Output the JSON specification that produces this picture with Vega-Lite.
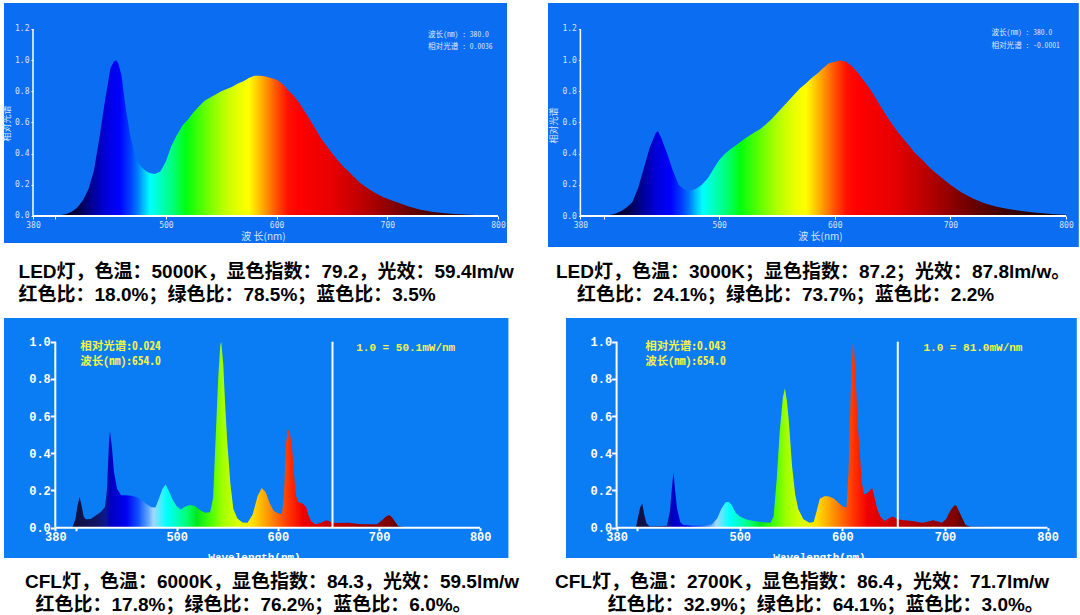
{
"$schema": "https://vega.github.io/schema/vega-lite/v6.json",
"background": "white",
"padding": {"left": 2, "top": 3, "right": 0, "bottom": 0},
"config": {"view": {"stroke": null}, "axis": {"grid": false, "labelOverlap": false, "labelFlush": false, "domain": false, "zindex": 1, "tickCount": 20}},
"datasets": {
"led5000": [
{"wl":380,"v":0.004},{"wl":390,"v":0.003},{"wl":400,"v":0.004},{"wl":405,"v":0.006},{"wl":410,"v":0.012},{"wl":415,"v":0.028},{"wl":420,"v":0.055},{"wl":425,"v":0.1},{"wl":430,"v":0.17},{"wl":435,"v":0.29},{"wl":440,"v":0.5},{"wl":445,"v":0.74},{"wl":450,"v":0.95},{"wl":453,"v":0.99},{"wl":455,"v":1.0},{"wl":457,"v":0.98},{"wl":460,"v":0.9},{"wl":464,"v":0.68},{"wl":468,"v":0.51},{"wl":472,"v":0.4},{"wl":476,"v":0.33},{"wl":480,"v":0.3},{"wl":485,"v":0.276},{"wl":490,"v":0.27},{"wl":495,"v":0.285},{"wl":500,"v":0.35},{"wl":505,"v":0.45},{"wl":510,"v":0.52},{"wl":515,"v":0.58},{"wl":520,"v":0.62},{"wl":525,"v":0.665},{"wl":530,"v":0.705},{"wl":535,"v":0.74},{"wl":540,"v":0.76},{"wl":545,"v":0.78},{"wl":550,"v":0.8},{"wl":555,"v":0.815},{"wl":560,"v":0.83},{"wl":565,"v":0.85},{"wl":570,"v":0.865},{"wl":575,"v":0.885},{"wl":580,"v":0.9},{"wl":585,"v":0.9},{"wl":590,"v":0.895},{"wl":595,"v":0.885},{"wl":600,"v":0.875},{"wl":605,"v":0.85},{"wl":610,"v":0.81},{"wl":615,"v":0.775},{"wl":620,"v":0.73},{"wl":625,"v":0.675},{"wl":630,"v":0.62},{"wl":635,"v":0.56},{"wl":640,"v":0.5},{"wl":645,"v":0.45},{"wl":650,"v":0.405},{"wl":655,"v":0.36},{"wl":660,"v":0.32},{"wl":665,"v":0.285},{"wl":670,"v":0.25},{"wl":675,"v":0.215},{"wl":680,"v":0.19},{"wl":685,"v":0.165},{"wl":690,"v":0.145},{"wl":695,"v":0.125},{"wl":700,"v":0.11},{"wl":710,"v":0.085},{"wl":720,"v":0.06},{"wl":730,"v":0.04},{"wl":740,"v":0.028},{"wl":750,"v":0.019},{"wl":760,"v":0.013},{"wl":770,"v":0.009},{"wl":780,"v":0.006},{"wl":790,"v":0.004},{"wl":800,"v":0.003}
],
"led3000": [
{"wl":380,"v":0.0},{"wl":390,"v":0.0},{"wl":400,"v":0.002},{"wl":405,"v":0.006},{"wl":410,"v":0.015},{"wl":415,"v":0.03},{"wl":420,"v":0.055},{"wl":425,"v":0.09},{"wl":430,"v":0.18},{"wl":435,"v":0.31},{"wl":440,"v":0.44},{"wl":445,"v":0.53},{"wl":447,"v":0.545},{"wl":450,"v":0.5},{"wl":455,"v":0.4},{"wl":460,"v":0.29},{"wl":465,"v":0.2},{"wl":470,"v":0.17},{"wl":475,"v":0.163},{"wl":480,"v":0.175},{"wl":485,"v":0.2},{"wl":490,"v":0.24},{"wl":495,"v":0.3},{"wl":500,"v":0.36},{"wl":505,"v":0.4},{"wl":510,"v":0.43},{"wl":515,"v":0.455},{"wl":520,"v":0.485},{"wl":525,"v":0.51},{"wl":530,"v":0.535},{"wl":535,"v":0.555},{"wl":540,"v":0.585},{"wl":545,"v":0.62},{"wl":550,"v":0.66},{"wl":555,"v":0.7},{"wl":560,"v":0.74},{"wl":565,"v":0.78},{"wl":570,"v":0.82},{"wl":575,"v":0.85},{"wl":580,"v":0.885},{"wl":585,"v":0.915},{"wl":590,"v":0.95},{"wl":595,"v":0.98},{"wl":600,"v":0.99},{"wl":605,"v":0.998},{"wl":610,"v":0.99},{"wl":615,"v":0.96},{"wl":620,"v":0.92},{"wl":625,"v":0.87},{"wl":630,"v":0.82},{"wl":635,"v":0.76},{"wl":640,"v":0.7},{"wl":645,"v":0.64},{"wl":650,"v":0.585},{"wl":655,"v":0.535},{"wl":660,"v":0.49},{"wl":665,"v":0.445},{"wl":670,"v":0.4},{"wl":675,"v":0.365},{"wl":680,"v":0.325},{"wl":685,"v":0.29},{"wl":690,"v":0.26},{"wl":695,"v":0.23},{"wl":700,"v":0.2},{"wl":705,"v":0.175},{"wl":710,"v":0.15},{"wl":715,"v":0.13},{"wl":720,"v":0.11},{"wl":730,"v":0.08},{"wl":740,"v":0.06},{"wl":750,"v":0.045},{"wl":760,"v":0.034},{"wl":770,"v":0.024},{"wl":780,"v":0.017},{"wl":790,"v":0.012},{"wl":800,"v":0.008}
],
"cfl6000": [
{"wl":380,"v":0.0},{"wl":390,"v":0.0},{"wl":397,"v":0.003},{"wl":400,"v":0.05},{"wl":402,"v":0.12},{"wl":404,"v":0.165},{"wl":406,"v":0.12},{"wl":408,"v":0.06},{"wl":410,"v":0.045},{"wl":415,"v":0.047},{"wl":420,"v":0.065},{"wl":425,"v":0.085},{"wl":429,"v":0.11},{"wl":431,"v":0.2},{"wl":433,"v":0.45},{"wl":434,"v":0.52},{"wl":436,"v":0.43},{"wl":438,"v":0.3},{"wl":441,"v":0.21},{"wl":445,"v":0.175},{"wl":450,"v":0.174},{"wl":455,"v":0.172},{"wl":460,"v":0.165},{"wl":465,"v":0.15},{"wl":470,"v":0.128},{"wl":475,"v":0.11},{"wl":479,"v":0.108},{"wl":482,"v":0.15},{"wl":486,"v":0.21},{"wl":489,"v":0.232},{"wl":492,"v":0.2},{"wl":496,"v":0.15},{"wl":500,"v":0.115},{"wl":504,"v":0.098},{"wl":508,"v":0.113},{"wl":513,"v":0.122},{"wl":518,"v":0.116},{"wl":523,"v":0.095},{"wl":528,"v":0.08},{"wl":533,"v":0.083},{"wl":536,"v":0.16},{"wl":539,"v":0.55},{"wl":541,"v":0.8},{"wl":543,"v":0.98},{"wl":544,"v":1.0},{"wl":546,"v":0.88},{"wl":548,"v":0.65},{"wl":550,"v":0.46},{"wl":553,"v":0.24},{"wl":556,"v":0.1},{"wl":560,"v":0.05},{"wl":565,"v":0.028},{"wl":570,"v":0.027},{"wl":575,"v":0.07},{"wl":580,"v":0.17},{"wl":584,"v":0.213},{"wl":588,"v":0.19},{"wl":592,"v":0.13},{"wl":596,"v":0.09},{"wl":600,"v":0.078},{"wl":604,"v":0.072},{"wl":606,"v":0.17},{"wl":608,"v":0.45},{"wl":610,"v":0.53},{"wl":612,"v":0.5},{"wl":614,"v":0.43},{"wl":616,"v":0.28},{"wl":618,"v":0.17},{"wl":620,"v":0.14},{"wl":625,"v":0.127},{"wl":628,"v":0.11},{"wl":630,"v":0.07},{"wl":633,"v":0.035},{"wl":637,"v":0.018},{"wl":642,"v":0.025},{"wl":648,"v":0.04},{"wl":654,"v":0.027},{"wl":660,"v":0.025},{"wl":670,"v":0.026},{"wl":680,"v":0.02},{"wl":690,"v":0.018},{"wl":698,"v":0.018},{"wl":703,"v":0.04},{"wl":707,"v":0.06},{"wl":710,"v":0.068},{"wl":713,"v":0.055},{"wl":716,"v":0.03},{"wl":719,"v":0.008},{"wl":725,"v":0.004},{"wl":750,"v":0.003},{"wl":775,"v":0.003},{"wl":800,"v":0.003}
],
"cfl2700": [
{"wl":380,"v":0.0},{"wl":395,"v":0.0},{"wl":399,"v":0.005},{"wl":401,"v":0.06},{"wl":403,"v":0.11},{"wl":405,"v":0.13},{"wl":407,"v":0.07},{"wl":409,"v":0.025},{"wl":412,"v":0.008},{"wl":420,"v":0.008},{"wl":429,"v":0.01},{"wl":432,"v":0.09},{"wl":434,"v":0.22},{"wl":435.5,"v":0.3},{"wl":437,"v":0.2},{"wl":439,"v":0.1},{"wl":442,"v":0.03},{"wl":445,"v":0.015},{"wl":455,"v":0.01},{"wl":465,"v":0.012},{"wl":473,"v":0.018},{"wl":478,"v":0.05},{"wl":482,"v":0.1},{"wl":486,"v":0.135},{"wl":489,"v":0.14},{"wl":492,"v":0.125},{"wl":496,"v":0.08},{"wl":500,"v":0.06},{"wl":506,"v":0.045},{"wl":512,"v":0.037},{"wl":520,"v":0.03},{"wl":530,"v":0.027},{"wl":533,"v":0.06},{"wl":536,"v":0.26},{"wl":539,"v":0.52},{"wl":542,"v":0.7},{"wl":544,"v":0.75},{"wl":546,"v":0.68},{"wl":548,"v":0.56},{"wl":551,"v":0.33},{"wl":554,"v":0.18},{"wl":557,"v":0.1},{"wl":562,"v":0.045},{"wl":568,"v":0.027},{"wl":572,"v":0.03},{"wl":575,"v":0.09},{"wl":578,"v":0.155},{"wl":583,"v":0.17},{"wl":587,"v":0.168},{"wl":592,"v":0.155},{"wl":597,"v":0.13},{"wl":601,"v":0.113},{"wl":604,"v":0.108},{"wl":606,"v":0.3},{"wl":608,"v":0.7},{"wl":610,"v":0.98},{"wl":611,"v":1.0},{"wl":613,"v":0.8},{"wl":615,"v":0.55},{"wl":617,"v":0.4},{"wl":619,"v":0.24},{"wl":621,"v":0.18},{"wl":624,"v":0.185},{"wl":627,"v":0.2},{"wl":629,"v":0.215},{"wl":631,"v":0.17},{"wl":634,"v":0.1},{"wl":637,"v":0.06},{"wl":641,"v":0.036},{"wl":645,"v":0.05},{"wl":649,"v":0.06},{"wl":654,"v":0.045},{"wl":660,"v":0.04},{"wl":668,"v":0.036},{"wl":678,"v":0.027},{"wl":684,"v":0.033},{"wl":688,"v":0.04},{"wl":693,"v":0.033},{"wl":697,"v":0.027},{"wl":701,"v":0.045},{"wl":705,"v":0.09},{"wl":709,"v":0.12},{"wl":711,"v":0.12},{"wl":714,"v":0.085},{"wl":717,"v":0.05},{"wl":720,"v":0.015},{"wl":725,"v":0.005},{"wl":750,"v":0.004},{"wl":775,"v":0.004},{"wl":800,"v":0.004}
]
},
"spacing": 13,
"vconcat": [
{"spacing": 34, "hconcat": [
{"width": 503, "height": 240, "view": {"fill": "#0b6df2", "stroke": null},
 "title": {"text": ["LED灯，色温：5000K，显色指数：79.2，光效：59.4lm/w", "红色比：18.0%；绿色比：78.5%；蓝色比：3.5%"], "orient": "bottom", "anchor": "start", "frame": "bounds", "dx": 16, "offset": 20, "font": "Liberation Sans, Noto Sans CJK SC", "fontSize": 19, "fontWeight": "bold", "color": "black", "lineHeight": 23},
 "layer": [
  {"data": {"name": "led5000"}, "mark": {"type": "area", "opacity": 1, "fill": {"gradient": "linear", "x1": 0, "y1": 0, "x2": 1, "y2": 0, "stops": [
    {"offset": 0, "color": "#000018"},{"offset": 0.0952, "color": "#000040"},{"offset": 0.119, "color": "#000080"},{"offset": 0.155, "color": "#0000d8"},{"offset": 0.186, "color": "#0000ff"},{"offset": 0.2095, "color": "#0040ff"},{"offset": 0.226, "color": "#0080ff"},{"offset": 0.238, "color": "#00c0ff"},{"offset": 0.252, "color": "#00ffff"},{"offset": 0.274, "color": "#00ffc0"},{"offset": 0.298, "color": "#00ff80"},{"offset": 0.329, "color": "#00ff10"},{"offset": 0.369, "color": "#60ff00"},{"offset": 0.405, "color": "#b0ff00"},{"offset": 0.44, "color": "#e8ff00"},{"offset": 0.464, "color": "#ffff00"},{"offset": 0.481, "color": "#ffd000"},{"offset": 0.5, "color": "#ff9800"},{"offset": 0.524, "color": "#ff5000"},{"offset": 0.548, "color": "#ff1000"},{"offset": 0.571, "color": "#ff0000"},{"offset": 0.643, "color": "#e80000"},{"offset": 0.714, "color": "#b80000"},{"offset": 0.762, "color": "#900000"},{"offset": 0.81, "color": "#680000"},{"offset": 0.881, "color": "#3c0000"},{"offset": 1, "color": "#100000"}]}},
   "encoding": {
    "x": {"field": "wl", "type": "quantitative", "scale": {"domain": [353.81, 808.13], "nice": false, "zero": false},
      "axis": {"values": [380, 400, 500, 600, 700, 800], "labelExpr": "datum.value == 400 ? '' : datum.label", "format": "d", "offset": -27, "tickColor": "white", "tickSize": 3, "labelColor": "#d6e4ff", "labelFont": "DejaVu Sans Mono", "labelFontSize": 8, "labelPadding": 2, "title": "波 长(nm)", "titleX": 259, "titleColor": "#d6e4ff", "titleFont": "Noto Sans CJK SC", "titleFontSize": 10, "titleFontWeight": "normal", "titlePadding": 2}},
    "y": {"field": "v", "type": "quantitative", "scale": {"domain": [-0.1733, 1.3668], "nice": false, "zero": false},
      "axis": {"values": [0, 0.2, 0.4, 0.6, 0.8, 1.0, 1.2], "format": ".1f", "offset": -29, "tickColor": "white", "tickSize": 2, "labelColor": "#d6e4ff", "labelFont": "DejaVu Sans Mono", "labelFontSize": 8, "labelPadding": 2, "title": "相对光谱", "titleColor": "#d6e4ff", "titleFont": "Noto Sans CJK SC", "titleFontSize": 9, "titleFontWeight": "normal", "titlePadding": 3}}}},
  {"data": {"values": [{}]}, "mark": {"type": "rule", "color": "white", "strokeWidth": 2},
   "encoding": {"x": {"datum": 380, "type": "quantitative"}, "x2": {"datum": 800}, "y": {"datum": 0, "type": "quantitative"}}},
  {"data": {"values": [{}]}, "mark": {"type": "rule", "color": "white", "strokeWidth": 1.5},
   "encoding": {"x": {"datum": 380, "type": "quantitative"}, "y": {"datum": 0, "type": "quantitative"}, "y2": {"datum": 1.2}}},
  {"data": {"values": [{}]}, "mark": {"type": "text", "text": "波长(nm) : 380.0", "align": "left", "baseline": "middle", "font": "Noto Sans Mono CJK SC, DejaVu Sans Mono, Noto Sans CJK SC", "fontSize": 7.6, "color": "#dce8ff"},
   "encoding": {"x": {"datum": 736.8, "type": "quantitative"}, "y": {"datum": 1.1615, "type": "quantitative"}}},
  {"data": {"values": [{}]}, "mark": {"type": "text", "text": "相对光谱 : 0.0036", "align": "left", "baseline": "middle", "font": "Noto Sans Mono CJK SC, DejaVu Sans Mono, Noto Sans CJK SC", "fontSize": 7.6, "color": "#dce8ff"},
   "encoding": {"x": {"datum": 736.8, "type": "quantitative"}, "y": {"datum": 1.0866, "type": "quantitative"}}}
 ]},
{"width": 530.8, "height": 244, "view": {"fill": "#0b6df2", "stroke": null},
 "title": {"text": ["LED灯，色温：3000K；显色指数：87.2；光效：87.8lm/w。", "\u200b\u00a0\u00a0\u00a0\u00a0红色比：24.1%；绿色比：73.7%；蓝色比：2.2%"], "orient": "bottom", "anchor": "start", "frame": "bounds", "dx": 8, "offset": 16, "font": "Liberation Sans, Noto Sans CJK SC", "fontSize": 19, "fontWeight": "bold", "color": "black", "lineHeight": 23},
 "layer": [
  {"data": {"name": "led3000"}, "mark": {"type": "area", "opacity": 1, "fill": {"gradient": "linear", "x1": 0, "y1": 0, "x2": 1, "y2": 0, "stops": [
    {"offset": 0, "color": "#000018"},{"offset": 0.0952, "color": "#000040"},{"offset": 0.119, "color": "#000080"},{"offset": 0.155, "color": "#0000d8"},{"offset": 0.186, "color": "#0000ff"},{"offset": 0.2095, "color": "#0040ff"},{"offset": 0.226, "color": "#0080ff"},{"offset": 0.238, "color": "#00c0ff"},{"offset": 0.252, "color": "#00ffff"},{"offset": 0.274, "color": "#00ffc0"},{"offset": 0.298, "color": "#00ff80"},{"offset": 0.329, "color": "#00ff10"},{"offset": 0.369, "color": "#60ff00"},{"offset": 0.405, "color": "#b0ff00"},{"offset": 0.44, "color": "#e8ff00"},{"offset": 0.464, "color": "#ffff00"},{"offset": 0.481, "color": "#ffd000"},{"offset": 0.5, "color": "#ff9800"},{"offset": 0.524, "color": "#ff5000"},{"offset": 0.548, "color": "#ff1000"},{"offset": 0.571, "color": "#ff0000"},{"offset": 0.643, "color": "#e80000"},{"offset": 0.714, "color": "#b80000"},{"offset": 0.762, "color": "#900000"},{"offset": 0.81, "color": "#680000"},{"offset": 0.881, "color": "#3c0000"},{"offset": 1, "color": "#100000"}]}},
   "encoding": {
    "x": {"field": "wl", "type": "quantitative", "scale": {"domain": [352.0, 811.06], "nice": false, "zero": false},
      "axis": {"values": [380, 400, 500, 600, 700, 800], "labelExpr": "datum.value == 400 ? '' : datum.label", "format": "d", "offset": -31, "tickColor": "white", "tickSize": 3, "labelColor": "#d6e4ff", "labelFont": "DejaVu Sans Mono", "labelFontSize": 8, "labelPadding": 2, "title": "波 长(nm)", "titleX": 272, "titleColor": "#d6e4ff", "titleFont": "Noto Sans CJK SC", "titleFontSize": 10, "titleFontWeight": "normal", "titlePadding": 2}},
    "y": {"field": "v", "type": "quantitative", "scale": {"domain": [-0.1989, 1.3668], "nice": false, "zero": false},
      "axis": {"values": [0, 0.2, 0.4, 0.6, 0.8, 1.0, 1.2], "format": ".1f", "offset": -32.4, "tickColor": "white", "tickSize": 2, "labelColor": "#d6e4ff", "labelFont": "DejaVu Sans Mono", "labelFontSize": 8, "labelPadding": 2, "title": "相对光谱", "titleColor": "#d6e4ff", "titleFont": "Noto Sans CJK SC", "titleFontSize": 9, "titleFontWeight": "normal", "titlePadding": 3}}}},
  {"data": {"values": [{}]}, "mark": {"type": "rule", "color": "white", "strokeWidth": 2},
   "encoding": {"x": {"datum": 380, "type": "quantitative"}, "x2": {"datum": 800}, "y": {"datum": 0, "type": "quantitative"}}},
  {"data": {"values": [{}]}, "mark": {"type": "rule", "color": "white", "strokeWidth": 1.5},
   "encoding": {"x": {"datum": 380, "type": "quantitative"}, "y": {"datum": 0, "type": "quantitative"}, "y2": {"datum": 1.2}}},
  {"data": {"values": [{}]}, "mark": {"type": "text", "text": "波长(nm) : 380.0", "align": "left", "baseline": "middle", "font": "Noto Sans Mono CJK SC, DejaVu Sans Mono, Noto Sans CJK SC", "fontSize": 7.6, "color": "#dce8ff"},
   "encoding": {"x": {"datum": 735.5, "type": "quantitative"}, "y": {"datum": 1.1725, "type": "quantitative"}}},
  {"data": {"values": [{}]}, "mark": {"type": "text", "text": "相对光谱 : -0.0001", "align": "left", "baseline": "middle", "font": "Noto Sans Mono CJK SC, DejaVu Sans Mono, Noto Sans CJK SC", "fontSize": 7.6, "color": "#dce8ff"},
   "encoding": {"x": {"datum": 735.5, "type": "quantitative"}, "y": {"datum": 1.093, "type": "quantitative"}}}
 ]}
]},
{"spacing": 35, "hconcat": [
{"width": 504.4, "height": 240, "view": {"fill": "#0a7cf4", "stroke": null},
 "title": {"text": ["CFL灯，色温：6000K，显色指数：84.3，光效：59.5lm/w", "\u200b\u00a0\u00a0红色比：17.8%；绿色比：76.2%；蓝色比：6.0%。"], "orient": "bottom", "anchor": "start", "frame": "bounds", "dx": 21, "offset": 10, "font": "Liberation Sans, Noto Sans CJK SC", "fontSize": 19, "fontWeight": "bold", "color": "black", "lineHeight": 23},
 "layer": [
  {"data": {"name": "cfl6000"}, "mark": {"type": "area", "opacity": 1, "fill": {"gradient": "linear", "x1": 0, "y1": 0, "x2": 1, "y2": 0, "stops": [
    {"offset": 0, "color": "#101030"},{"offset": 0.0476, "color": "#101040"},{"offset": 0.0952, "color": "#101460"},{"offset": 0.119, "color": "#0a1890"},{"offset": 0.129, "color": "#0000c0"},{"offset": 0.167, "color": "#0000f0"},{"offset": 0.195, "color": "#1050ff"},{"offset": 0.219, "color": "#60a8ff"},{"offset": 0.231, "color": "#a0d8ff"},{"offset": 0.25, "color": "#40f0ff"},{"offset": 0.262, "color": "#00ffff"},{"offset": 0.286, "color": "#00ffc0"},{"offset": 0.31, "color": "#00ff70"},{"offset": 0.333, "color": "#00e820"},{"offset": 0.369, "color": "#50ff00"},{"offset": 0.393, "color": "#a0ff00"},{"offset": 0.429, "color": "#d8ff00"},{"offset": 0.464, "color": "#ffe000"},{"offset": 0.488, "color": "#ffb000"},{"offset": 0.512, "color": "#ff8000"},{"offset": 0.536, "color": "#ff5000"},{"offset": 0.552, "color": "#ff3000"},{"offset": 0.583, "color": "#f00000"},{"offset": 0.643, "color": "#c80000"},{"offset": 0.714, "color": "#a00000"},{"offset": 0.786, "color": "#800000"},{"offset": 0.81, "color": "#500000"},{"offset": 1, "color": "#200000"}]}},
   "encoding": {
    "x": {"field": "wl", "type": "quantitative", "scale": {"domain": [329.29, 827.87], "nice": false, "zero": false},
      "axis": {"values": [380, 400, 500, 600, 700, 800], "labelExpr": "datum.value == 400 ? '' : datum.label", "format": "d", "offset": -30.3, "tickColor": "white", "tickWidth": 2, "tickSize": 3, "labelColor": "white", "labelFont": "Liberation Mono", "labelFontWeight": "bold", "labelFontSize": 12, "labelPadding": 1, "title": "Wavelength(nm)", "titleX": 250, "titleColor": "white", "titleFont": "Liberation Mono", "titleFontWeight": "bold", "titleFontSize": 11, "titlePadding": 9}},
    "y": {"field": "v", "type": "quantitative", "scale": {"domain": [-0.1629, 1.1274], "nice": false, "zero": false},
      "axis": {"values": [0, 0.2, 0.4, 0.6, 0.8, 1.0], "format": ".1f", "offset": -51.3, "tickColor": "white", "tickWidth": 2, "tickSize": 5, "labelColor": "white", "labelFont": "Liberation Mono", "labelFontWeight": "bold", "labelFontSize": 12, "labelPadding": 0, "title": null}}}},
  {"data": {"values": [{}]}, "mark": {"type": "rule", "color": "white", "strokeWidth": 2},
   "encoding": {"x": {"datum": 380, "type": "quantitative"}, "x2": {"datum": 800}, "y": {"datum": 0, "type": "quantitative"}}},
  {"data": {"values": [{}]}, "mark": {"type": "rule", "color": "white", "strokeWidth": 2},
   "encoding": {"x": {"datum": 380, "type": "quantitative"}, "y": {"datum": 0, "type": "quantitative"}, "y2": {"datum": 1.0}}},
  {"data": {"values": [{}]}, "mark": {"type": "rule", "color": "white", "strokeWidth": 2},
   "encoding": {"x": {"datum": 654, "type": "quantitative"}, "y": {"datum": 0, "type": "quantitative"}, "y2": {"datum": 1.0}}},
  {"data": {"values": [{}]}, "mark": {"type": "text", "text": "相对光谱:0.024", "align": "left", "baseline": "middle", "font": "Noto Sans Mono CJK SC, Liberation Mono, Noto Sans CJK SC", "fontWeight": "bold", "fontSize": 11.5, "color": "#f2f24a"},
   "encoding": {"x": {"datum": 404.7, "type": "quantitative"}, "y": {"datum": 0.971, "type": "quantitative"}}},
  {"data": {"values": [{}]}, "mark": {"type": "text", "text": "波长(nm):654.0", "align": "left", "baseline": "middle", "font": "Noto Sans Mono CJK SC, Liberation Mono, Noto Sans CJK SC", "fontWeight": "bold", "fontSize": 11.5, "color": "#f2f24a"},
   "encoding": {"x": {"datum": 404.7, "type": "quantitative"}, "y": {"datum": 0.889, "type": "quantitative"}}},
  {"data": {"values": [{}]}, "mark": {"type": "text", "text": "1.0 = 50.1mW/nm", "align": "left", "baseline": "middle", "font": "Liberation Mono", "fontWeight": "bold", "fontSize": 11, "color": "#f2f24a"},
   "encoding": {"x": {"datum": 677.4, "type": "quantitative"}, "y": {"datum": 0.968, "type": "quantitative"}}}
 ]},
{"width": 510.8, "height": 240, "view": {"fill": "#0a7cf4", "stroke": null},
 "title": {"text": ["CFL灯，色温：2700K，显色指数：86.4，光效：71.7lm/w", "\u200b\u00a0\u00a0\u00a0\u00a0\u00a0\u00a0\u00a0\u00a0\u00a0\u00a0红色比：32.9%；绿色比：64.1%；蓝色比：3.0%。"], "orient": "bottom", "anchor": "start", "frame": "bounds", "dx": -11, "offset": 10, "font": "Liberation Sans, Noto Sans CJK SC", "fontSize": 19, "fontWeight": "bold", "color": "black", "lineHeight": 23},
 "layer": [
  {"data": {"name": "cfl2700"}, "mark": {"type": "area", "opacity": 1, "fill": {"gradient": "linear", "x1": 0, "y1": 0, "x2": 1, "y2": 0, "stops": [
    {"offset": 0, "color": "#101030"},{"offset": 0.0476, "color": "#101040"},{"offset": 0.0952, "color": "#101460"},{"offset": 0.119, "color": "#0a1890"},{"offset": 0.129, "color": "#0000c0"},{"offset": 0.167, "color": "#0000f0"},{"offset": 0.195, "color": "#1050ff"},{"offset": 0.219, "color": "#60a8ff"},{"offset": 0.231, "color": "#a0d8ff"},{"offset": 0.25, "color": "#40f0ff"},{"offset": 0.262, "color": "#00ffff"},{"offset": 0.286, "color": "#00ffc0"},{"offset": 0.31, "color": "#00ff70"},{"offset": 0.333, "color": "#00e820"},{"offset": 0.369, "color": "#50ff00"},{"offset": 0.393, "color": "#a0ff00"},{"offset": 0.429, "color": "#d8ff00"},{"offset": 0.464, "color": "#ffe000"},{"offset": 0.488, "color": "#ffb000"},{"offset": 0.512, "color": "#ff8000"},{"offset": 0.536, "color": "#ff5000"},{"offset": 0.552, "color": "#ff3000"},{"offset": 0.583, "color": "#f00000"},{"offset": 0.643, "color": "#c80000"},{"offset": 0.714, "color": "#a00000"},{"offset": 0.786, "color": "#800000"},{"offset": 0.81, "color": "#500000"},{"offset": 1, "color": "#200000"}]}},
   "encoding": {
    "x": {"field": "wl", "type": "quantitative", "scale": {"domain": [330.69, 828.45], "nice": false, "zero": false},
      "axis": {"values": [380, 400, 500, 600, 700, 800], "labelExpr": "datum.value == 400 ? '' : datum.label", "format": "d", "offset": -30.3, "tickColor": "white", "tickWidth": 2, "tickSize": 3, "labelColor": "white", "labelFont": "Liberation Mono", "labelFontWeight": "bold", "labelFontSize": 12, "labelPadding": 1, "title": "Wavelength(nm)", "titleX": 253, "titleColor": "white", "titleFont": "Liberation Mono", "titleFontWeight": "bold", "titleFontSize": 11, "titlePadding": 9}},
    "y": {"field": "v", "type": "quantitative", "scale": {"domain": [-0.1629, 1.1274], "nice": false, "zero": false},
      "axis": {"values": [0, 0.2, 0.4, 0.6, 0.8, 1.0], "format": ".1f", "offset": -50.6, "tickColor": "white", "tickWidth": 2, "tickSize": 5, "labelColor": "white", "labelFont": "Liberation Mono", "labelFontWeight": "bold", "labelFontSize": 12, "labelPadding": 0, "title": null}}}},
  {"data": {"values": [{}]}, "mark": {"type": "rule", "color": "white", "strokeWidth": 2},
   "encoding": {"x": {"datum": 380, "type": "quantitative"}, "x2": {"datum": 800}, "y": {"datum": 0, "type": "quantitative"}}},
  {"data": {"values": [{}]}, "mark": {"type": "rule", "color": "white", "strokeWidth": 2},
   "encoding": {"x": {"datum": 380, "type": "quantitative"}, "y": {"datum": 0, "type": "quantitative"}, "y2": {"datum": 1.0}}},
  {"data": {"values": [{}]}, "mark": {"type": "rule", "color": "white", "strokeWidth": 2},
   "encoding": {"x": {"datum": 654, "type": "quantitative"}, "y": {"datum": 0, "type": "quantitative"}, "y2": {"datum": 1.0}}},
  {"data": {"values": [{}]}, "mark": {"type": "text", "text": "相对光谱:0.043", "align": "left", "baseline": "middle", "font": "Noto Sans Mono CJK SC, Liberation Mono, Noto Sans CJK SC", "fontWeight": "bold", "fontSize": 11.5, "color": "#f2f24a"},
   "encoding": {"x": {"datum": 408, "type": "quantitative"}, "y": {"datum": 0.971, "type": "quantitative"}}},
  {"data": {"values": [{}]}, "mark": {"type": "text", "text": "波长(nm):654.0", "align": "left", "baseline": "middle", "font": "Noto Sans Mono CJK SC, Liberation Mono, Noto Sans CJK SC", "fontWeight": "bold", "fontSize": 11.5, "color": "#f2f24a"},
   "encoding": {"x": {"datum": 408, "type": "quantitative"}, "y": {"datum": 0.889, "type": "quantitative"}}},
  {"data": {"values": [{}]}, "mark": {"type": "text", "text": "1.0 = 81.0mW/nm", "align": "left", "baseline": "middle", "font": "Liberation Mono", "fontWeight": "bold", "fontSize": 11, "color": "#f2f24a"},
   "encoding": {"x": {"datum": 679, "type": "quantitative"}, "y": {"datum": 0.968, "type": "quantitative"}}}
 ]}
]}
]
}
